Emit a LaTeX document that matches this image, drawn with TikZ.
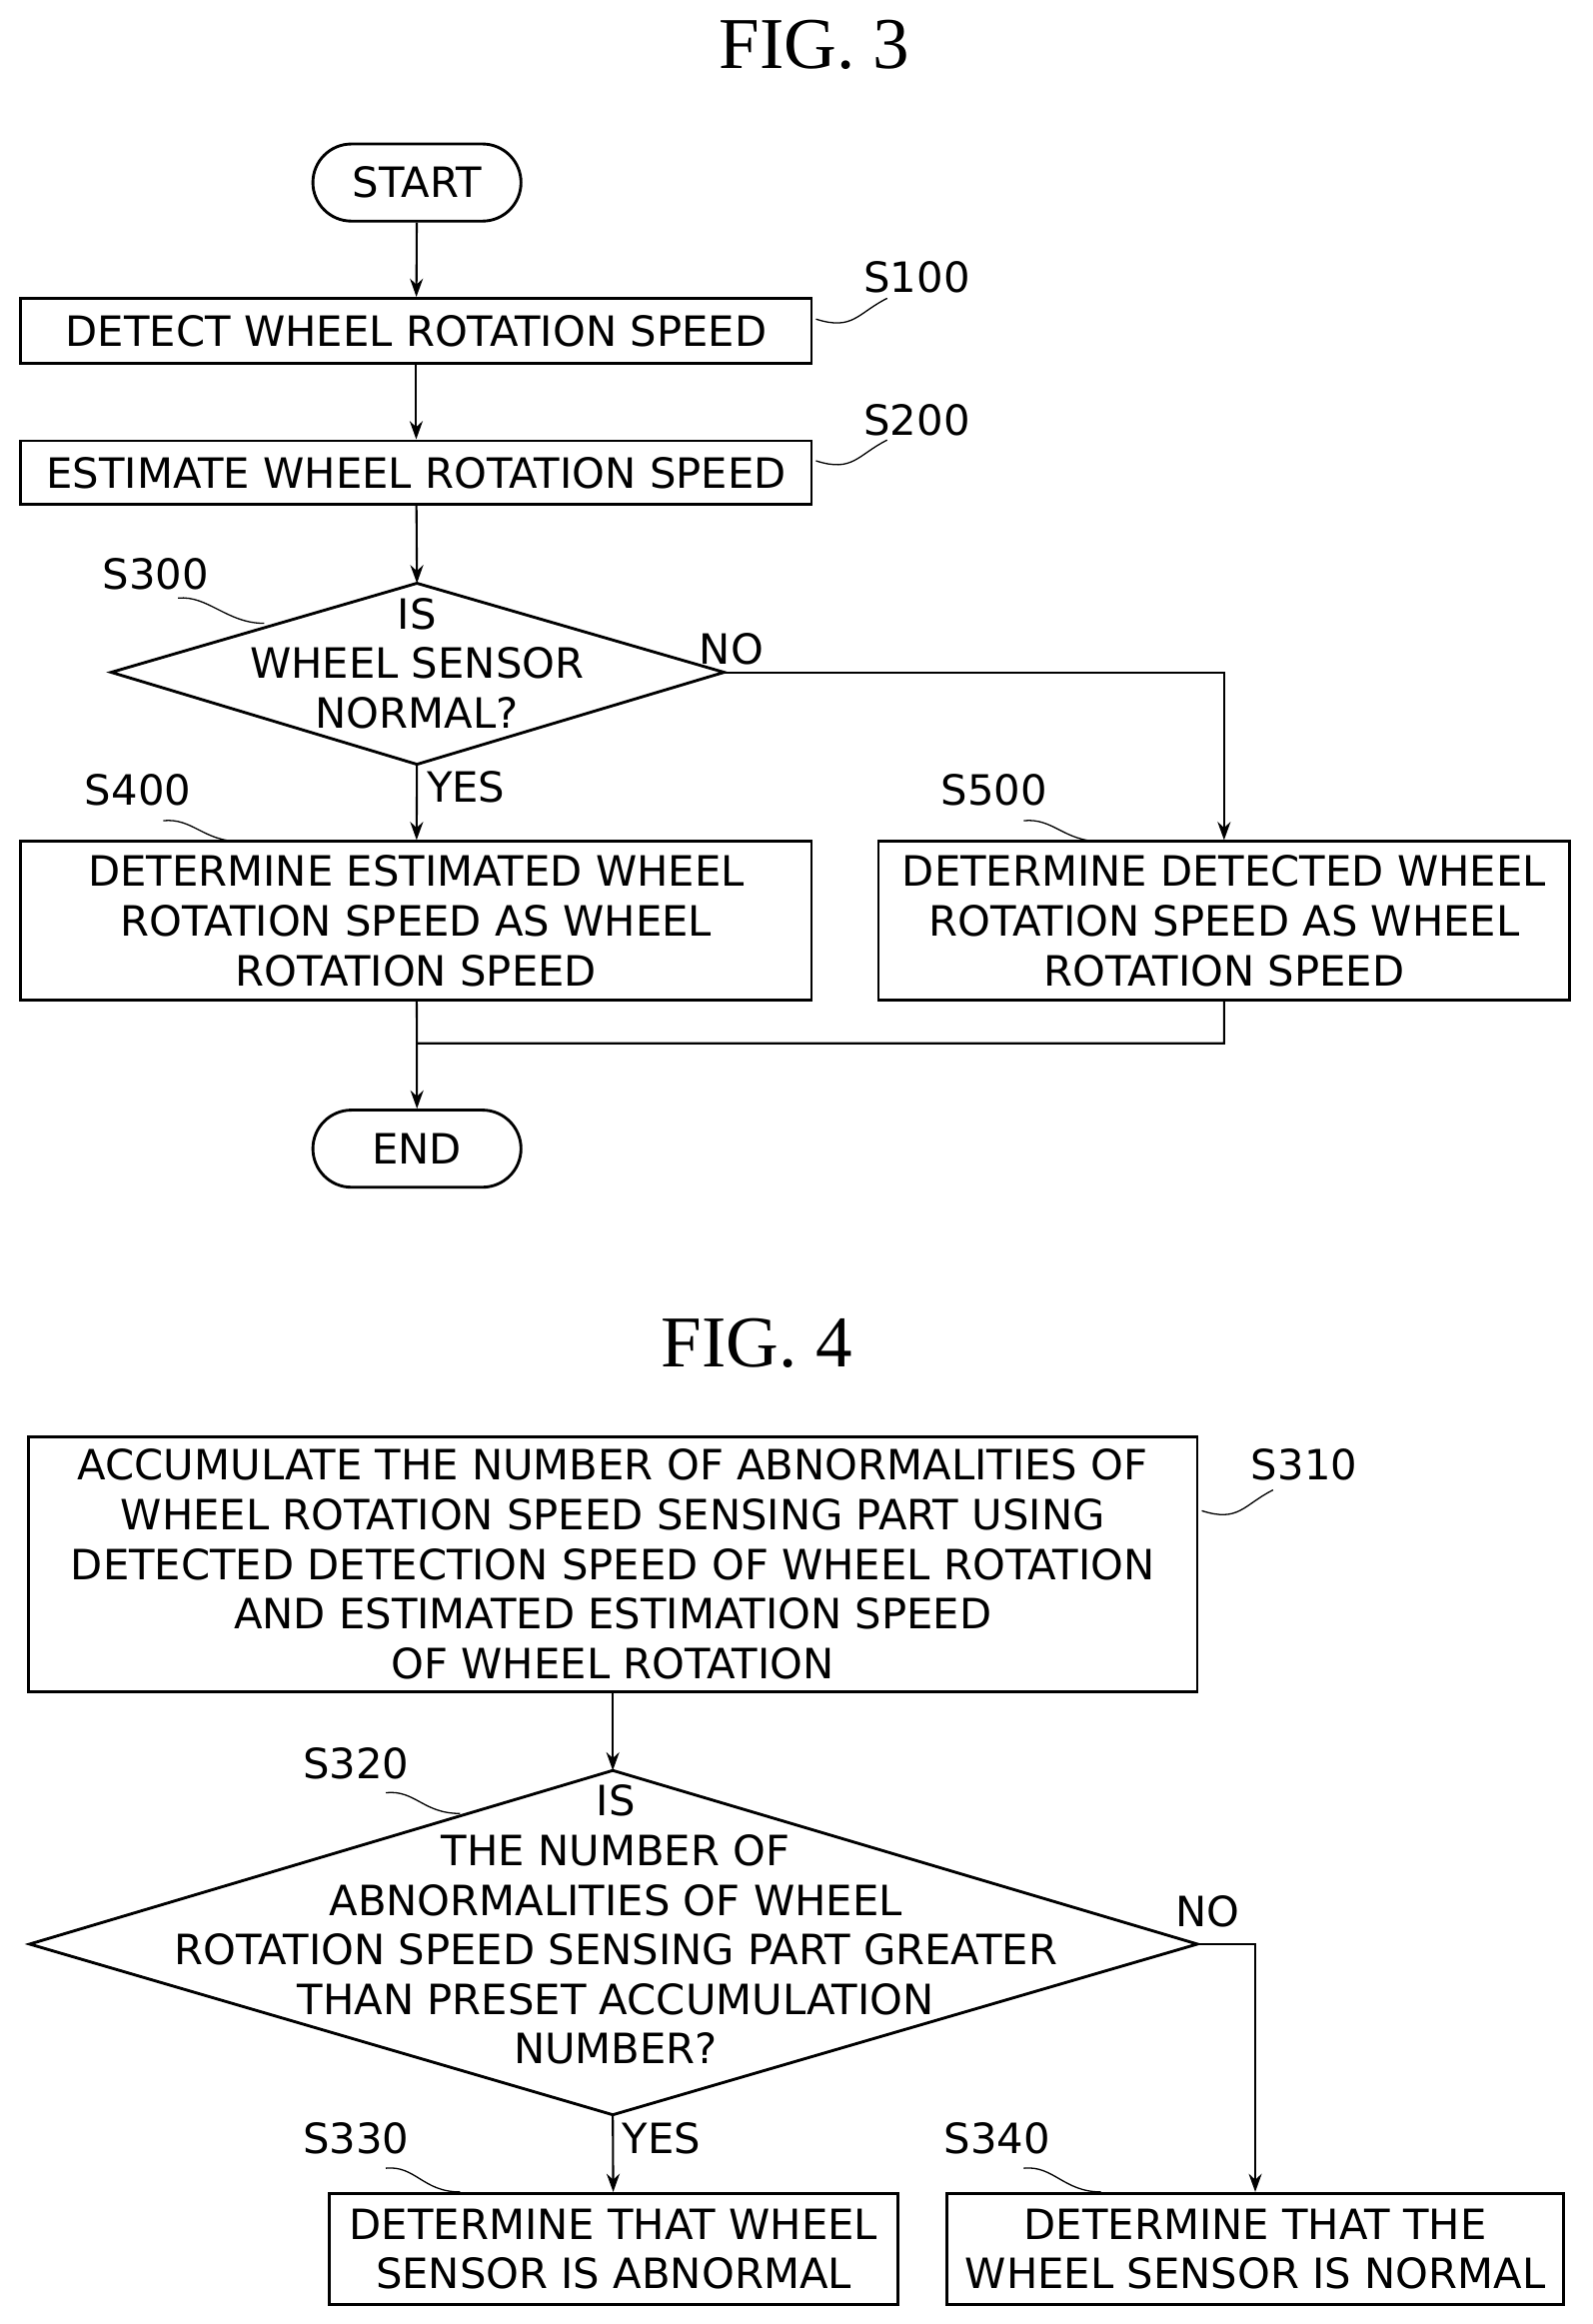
\documentclass[tikz,border=0pt]{standalone}
\usepackage{fontspec}
\setmainfont{Liberation Serif}
\setsansfont{DejaVu Sans}
\usetikzlibrary{arrows.meta,shapes.misc}
\tikzstyle{etape}=[draw, rectangle, line width=1.1pt, inner sep=0pt, align=center, font=\sffamily\fontsize{16}{19}\selectfont]
\tikzstyle{borne}=[draw, rounded rectangle, line width=1.1pt, minimum width=3.04cm, minimum height=1.04cm, font=\sffamily\fontsize{16}{19}\selectfont]
\tikzstyle{texte}=[inner sep=0pt, align=center, font=\sffamily\fontsize{16}{19}\selectfont]
\tikzstyle{repere}=[inner sep=0pt, font=\sffamily\fontsize{16}{19}\selectfont]
\tikzstyle{fleche}=[line width=0.8pt, -{Stealth[length=7pt,width=5pt]}]
\tikzstyle{trait}=[line width=0.8pt]
\tikzstyle{renvoi}=[line width=0.5pt]

\begin{document}
\begin{tikzpicture}[x=0.02cm, y=-0.02cm]
    \useasboundingbox (0,0) rectangle (1073,1566);

    % FIG. 3
    \node[font=\fontsize{28}{32}\selectfont] (t3) at (549,30) {FIG. 3};
    \node[borne] (start) at (281,123) {START};
    \node[etape, minimum width=10.66cm, minimum height=0.88cm] (s100) at (280.5,223) {DETECT WHEEL ROTATION SPEED};
    \node[etape, minimum width=10.66cm, minimum height=0.86cm] (s200) at (280.5,318.5) {ESTIMATE WHEEL ROTATION SPEED};
    \coordinate (d3n) at (281,393);
    \coordinate (d3e) at (488,453);
    \coordinate (d3s) at (281,515);
    \coordinate (d3w) at (75,453);
    \draw[line width=1.1pt] (d3n) -- (d3e) -- (d3s) -- (d3w) -- cycle;
    \node[texte] (q300) at (281,447) {IS\\WHEEL SENSOR\\NORMAL?};
    \node[etape, minimum width=10.66cm, minimum height=2.14cm] (s400) at (280.5,620.5) {DETERMINE ESTIMATED WHEEL\\ROTATION SPEED AS WHEEL\\ROTATION SPEED};
    \node[etape, minimum width=9.32cm, minimum height=2.14cm] (s500) at (825,620.5) {DETERMINE DETECTED WHEEL\\ROTATION SPEED AS WHEEL\\ROTATION SPEED};
    \node[borne] (end) at (281,774) {END};
    \coordinate (merge) at (281,703);

    \draw[fleche] (start) -- (s100);
    \draw[fleche] (s100) -- (s200);
    \draw[fleche] (s200) -- (d3n);
    \draw[fleche] (d3s) -- (s400);
    \draw[fleche] (d3e) -| (s500);
    \draw[trait] (s400) -- (merge);
    \draw[fleche] (s500.south) |- (merge) -- (end);
    \node[repere] (no3) at (493,437) {NO};
    \node[repere] (yes3) at (314,530) {YES};

    \node[repere] (l100) at (618,187) {S100};
    \node[repere] (l200) at (618,283) {S200};
    \node[repere] (l300) at (105,387) {S300};
    \node[repere] (l400) at (93,532) {S400};
    \node[repere] (l500) at (670,532) {S500};
    \draw[renvoi] (s100.east) ++(2,-8) .. controls +(25,8) and +(-20,10) .. ++(48,-14);
    \draw[renvoi] (s200.east) ++(2,-8) .. controls +(25,8) and +(-20,10) .. ++(48,-14);
    \draw[renvoi] (120,403) .. controls +(20,-2) and +(-25,0) .. (178,420);
    \draw[renvoi] (110,553) .. controls +(20,-2) and +(-25,0) .. (162,567);
    \draw[renvoi] (690,553) .. controls +(20,-2) and +(-25,0) .. (742,567);

    % FIG. 4
    \node[font=\fontsize{28}{32}\selectfont] (t4) at (510,905) {FIG. 4};
    \node[etape, minimum width=15.76cm, minimum height=3.44cm] (s310) at (413,1054) {ACCUMULATE THE NUMBER OF ABNORMALITIES OF\\WHEEL ROTATION SPEED SENSING PART USING\\DETECTED DETECTION SPEED OF WHEEL ROTATION\\AND ESTIMATED ESTIMATION SPEED\\OF WHEEL ROTATION};
    \coordinate (d4n) at (413,1193);
    \coordinate (d4e) at (807,1310);
    \coordinate (d4s) at (413,1425);
    \coordinate (d4w) at (20,1310);
    \draw[line width=1.1pt] (d4n) -- (d4e) -- (d4s) -- (d4w) -- cycle;
    \node[texte] (q320) at (415,1297) {IS\\THE NUMBER OF\\ABNORMALITIES OF WHEEL\\ROTATION SPEED SENSING PART GREATER\\THAN PRESET ACCUMULATION\\NUMBER?};
    \node[etape, minimum width=7.66cm, minimum height=1.5cm] (s330) at (413.5,1515.5) {DETERMINE THAT WHEEL\\SENSOR IS ABNORMAL};
    \node[etape, minimum width=8.32cm, minimum height=1.5cm] (s340) at (846,1515.5) {DETERMINE THAT THE\\WHEEL SENSOR IS NORMAL};

    \draw[fleche] (s310) -- (d4n);
    \draw[fleche] (d4s) -- (s330);
    \draw[fleche] (d4e) -| (s340);
    \node[repere] (no4) at (814,1288) {NO};
    \node[repere] (yes4) at (446,1441) {YES};

    \node[repere] (l310) at (879,987) {S310};
    \node[repere] (l320) at (240,1188) {S320};
    \node[repere] (l330) at (240,1441) {S330};
    \node[repere] (l340) at (672,1441) {S340};
    \draw[renvoi] (810,1018) .. controls +(25,8) and +(-20,10) .. (858,1004);
    \draw[renvoi] (260,1208) .. controls +(20,-2) and +(-25,0) .. (310,1222);
    \draw[renvoi] (260,1461) .. controls +(20,-2) and +(-25,0) .. (310,1477);
    \draw[renvoi] (690,1461) .. controls +(20,-2) and +(-25,0) .. (742,1477);
\end{tikzpicture}
\end{document}
